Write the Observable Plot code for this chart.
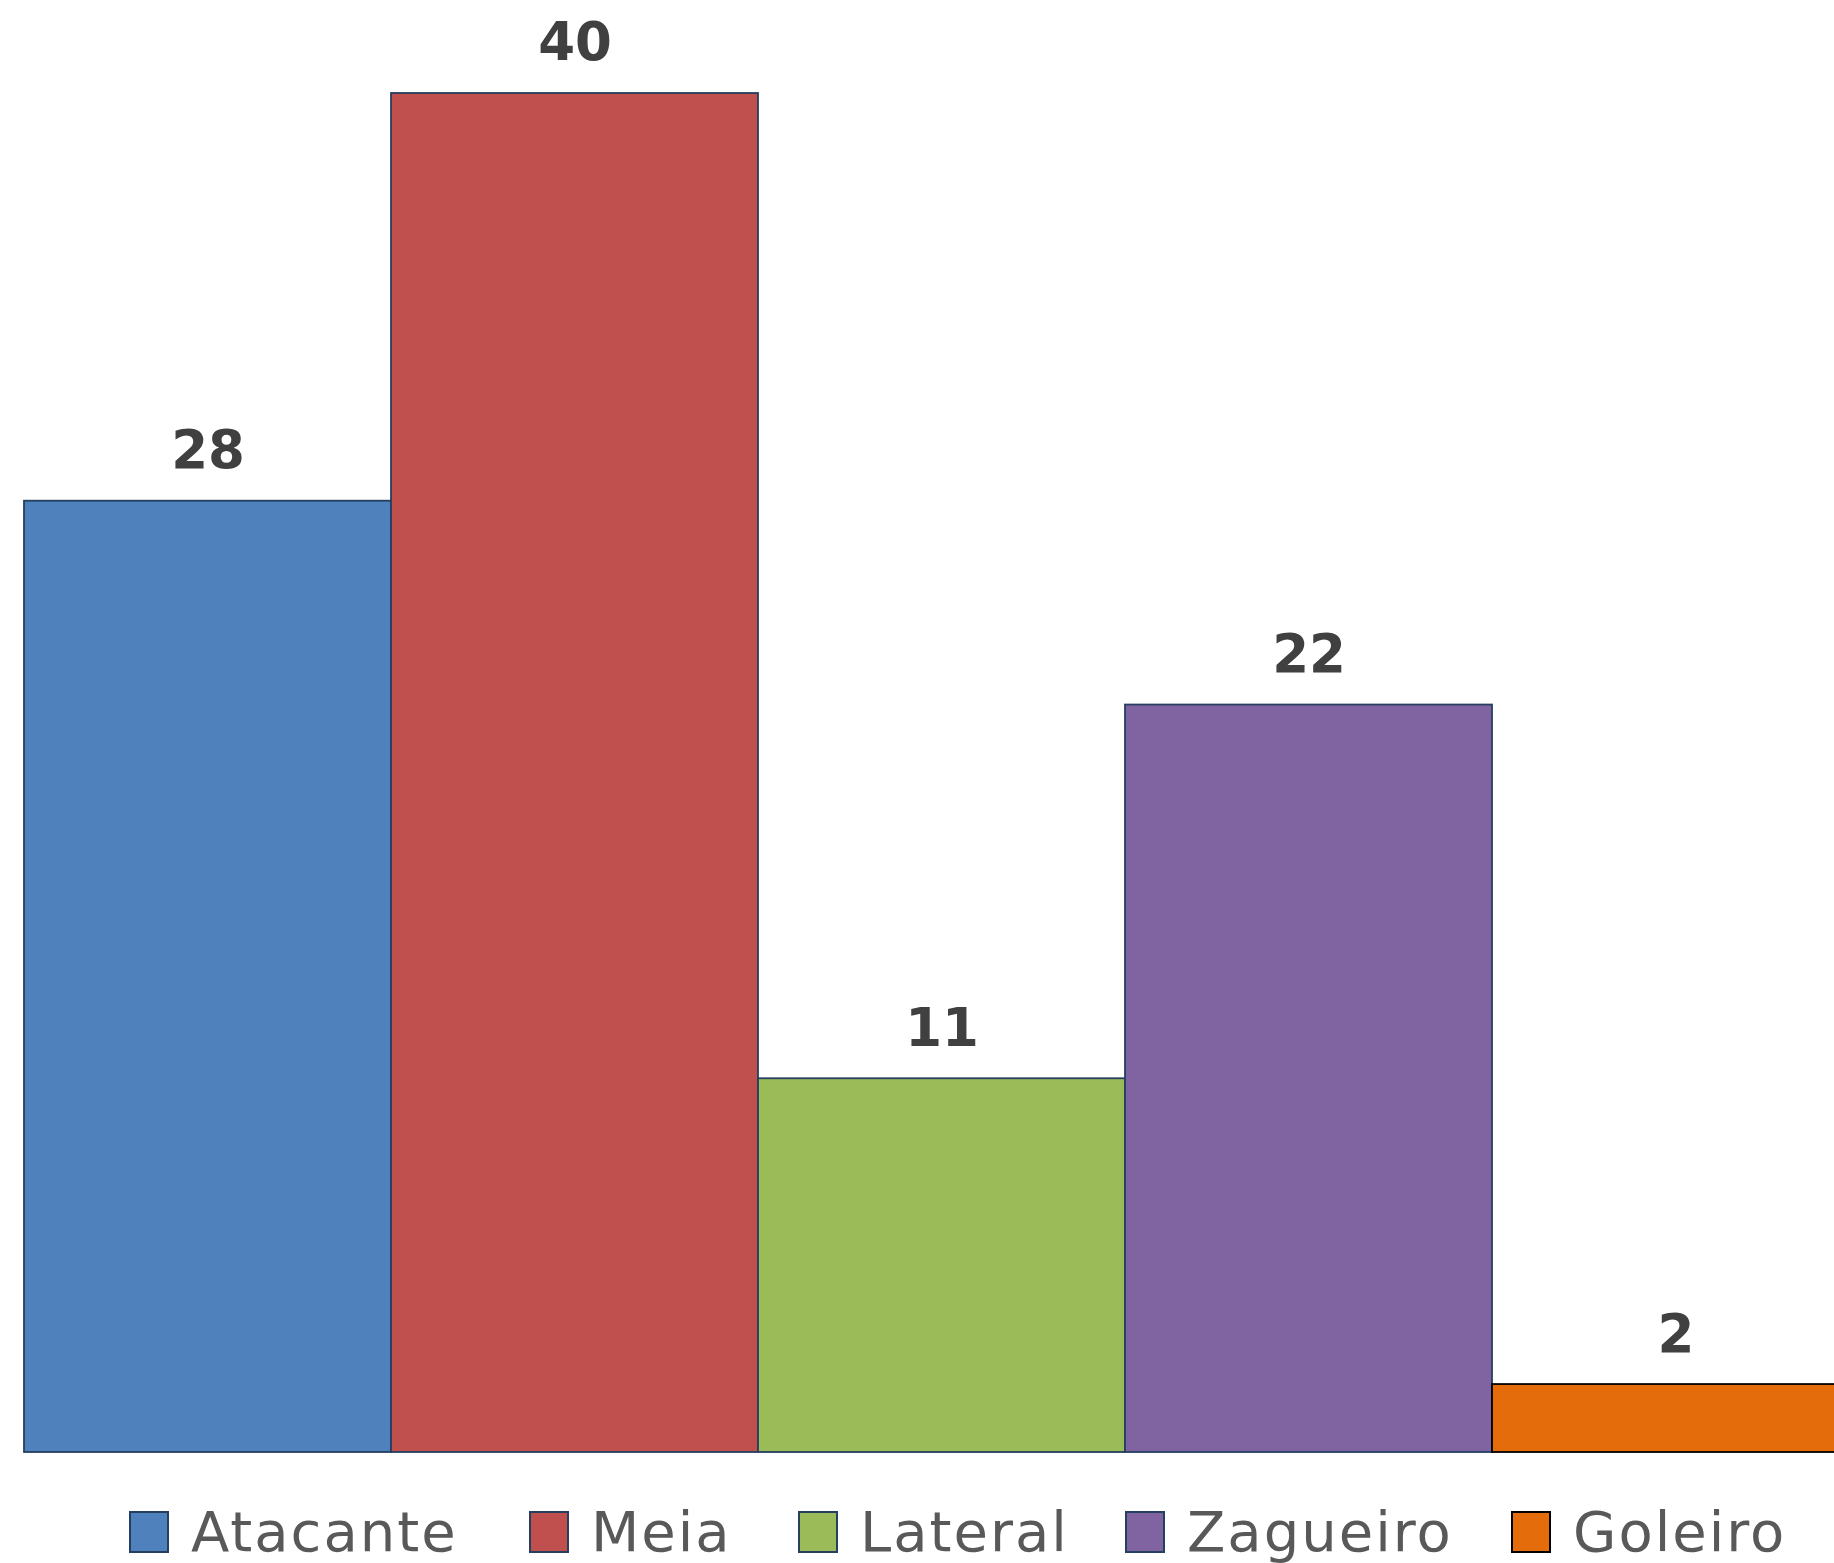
<!DOCTYPE html>
<html>
<head>
<meta charset="utf-8">
<script src="https://cdn.jsdelivr.net/npm/d3@7"></script>
<script src="https://cdn.jsdelivr.net/npm/@observablehq/plot@0.6"></script>
<style>
  html, body { margin: 0; padding: 0; background: #fff; overflow: hidden; width: 1834px; height: 1563px; position: relative; }
  #chart svg { display: block; }
  #legend { position: absolute; left: 0; top: 1500px; width: 1834px; height: 64px; font-family: "DejaVu Sans", sans-serif; font-size: 56px; letter-spacing: 2px; line-height: 64px; color: #595959; white-space: nowrap; }
  .item { position: absolute; top: 0; height: 64px; display: flex; align-items: center; }
  .sw { width: 36px; height: 38px; box-sizing: content-box; margin-right: 22px; }
</style>
</head>
<body>
<div id="chart"></div>
<div id="legend"></div>
<script>
const categories = ["Atacante", "Meia", "Lateral", "Zagueiro", "Goleiro"];
const values = [28, 40, 11, 22, 2];
const colors = ["#4f81bd", "#c0504d", "#9bbb59", "#8064a2", "#e46c0a"];
const strokes = ["#243f60", "#243f60", "#243f60", "#243f60", "#000000"];
const legendLeft = [129, 529, 798, 1125, 1511];

const data = categories.map((c, i) => ({category: c, value: values[i], fill: colors[i], stroke: strokes[i]}));

const chart = Plot.plot({
  width: 1834,
  height: 1482,
  style: {background: "#fff", fontFamily: "'DejaVu Sans', sans-serif"},
  x: {domain: categories, range: [24, 1859], padding: 0, axis: null},
  y: {domain: [0, 40], range: [1452, 93], axis: null},
  marks: [
    Plot.barY(data, {x: "category", y: "value", fill: "fill", stroke: "stroke", strokeWidth: 1.8, inset: 0}),
    Plot.text(data, {x: "category", y: "value", text: d => String(d.value), dy: -50, fontSize: 53, fontWeight: "bold", fill: "#404040"})
  ]
});
document.getElementById("chart").append(chart);

const legend = document.getElementById("legend");
categories.forEach((c, i) => {
  const item = document.createElement("div");
  item.className = "item";
  item.style.left = legendLeft[i] + "px";
  const sw = document.createElement("div");
  sw.className = "sw";
  sw.style.background = colors[i];
  sw.style.border = `2px solid ${strokes[i]}`;
  const label = document.createElement("span");
  label.textContent = c;
  item.append(sw, label);
  legend.append(item);
});
</script>
</body>
</html>
